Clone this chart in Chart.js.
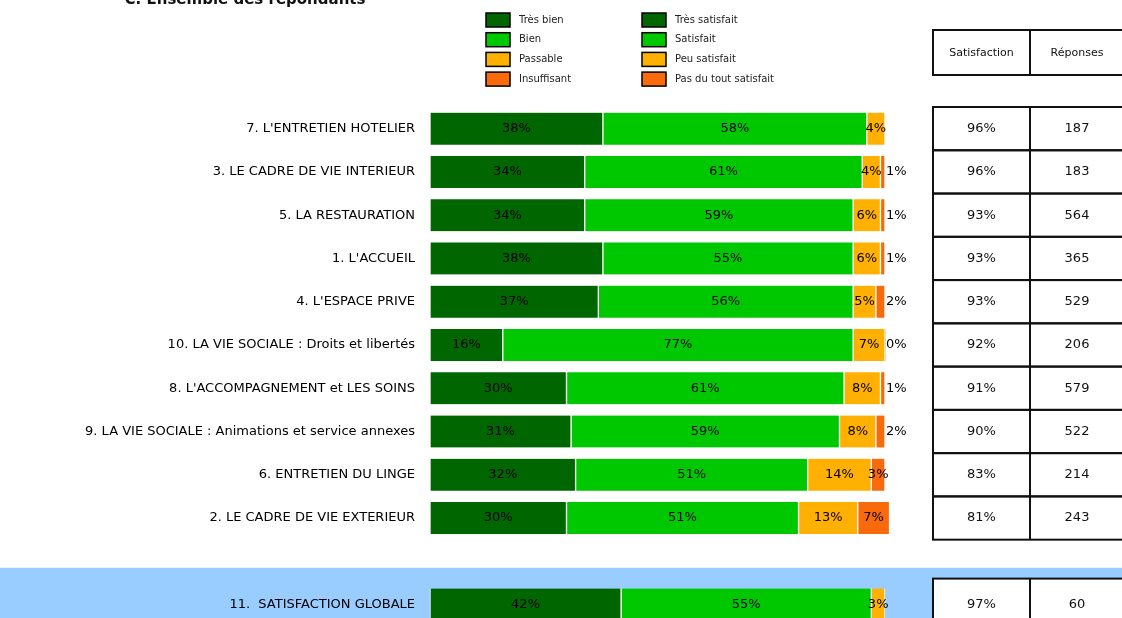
<!DOCTYPE html>
<html>
<head>
<meta charset="utf-8">
<script src="https://cdn.jsdelivr.net/npm/chart.js@4/dist/chart.umd.min.js"></script>
<style>
    html, body { margin: 0; padding: 0; background: #fff; overflow: hidden; }
    #wrap { width: 1122px; height: 649px; }
</style>
</head>
<body>
<div id="wrap"><canvas id="satisfactionChart" width="1122" height="649"></canvas></div>
<script>
const title = 'C. Ensemble des répondants';
const categories = [
    "7. L'ENTRETIEN HOTELIER",
    '3. LE CADRE DE VIE INTERIEUR',
    '5. LA RESTAURATION',
    "1. L'ACCUEIL",
    "4. L'ESPACE PRIVE",
    '10. LA VIE SOCIALE : Droits et libertés',
    "8. L'ACCOMPAGNEMENT et LES SOINS",
    '9. LA VIE SOCIALE : Animations et service annexes',
    '6. ENTRETIEN DU LINGE',
    '2. LE CADRE DE VIE EXTERIEUR',
    '',
    '11.  SATISFACTION GLOBALE',
];
const tresBien    = [38, 34, 34, 38, 37, 16, 30, 31, 32, 30, null, 42];
const bien        = [58, 61, 59, 55, 56, 77, 61, 59, 51, 51, null, 55];
const passable    = [4, 4, 6, 6, 5, 7, 8, 8, 14, 13, null, 3];
const insuffisant = [null, 1, 1, 1, 2, 0, 1, 2, 3, 7, null, null];
const satisfaction = [96, 96, 93, 93, 93, 92, 91, 90, 83, 81, null, 97];
const reponses     = [187, 183, 564, 365, 529, 206, 579, 522, 214, 243, null, 60];
const tableHeaders = ['Satisfaction', 'Réponses'];
const seriesLabels    = ['Très bien', 'Bien', 'Passable', 'Insuffisant'];
const seriesLabelsAlt = ['Très satisfait', 'Satisfait', 'Peu satisfait', 'Pas du tout satisfait'];
const seriesColors    = ['#006600', '#00c800', '#ffb000', '#f86a0c'];

const FONT = '"DejaVu Sans", sans-serif';
const seriesValues = [tresBien, bien, passable, insuffisant];

// light blue band behind the global row + cut-off title
const backdrop = {
    id: 'backdrop',
    beforeDraw(chart) {
        const { ctx } = chart;
        const y = chart.scales.y;
        const step = y.height / categories.length;
        const top = y.getPixelForValue(categories.length - 1) - step * 0.85;
        ctx.save();
        ctx.fillStyle = '#99ccff';
        ctx.fillRect(0, top, chart.width, chart.height - top);
        ctx.fillStyle = '#111';
        ctx.font = 'bold 15px ' + FONT;
        ctx.textAlign = 'center';
        ctx.textBaseline = 'alphabetic';
        ctx.fillText(title, 245, 4);
        ctx.restore();
    },
};

const barLabels = {
    id: 'barLabels',
    afterDatasetsDraw(chart) {
        const { ctx } = chart;
        ctx.save();
        ctx.font = '13px ' + FONT;
        ctx.fillStyle = '#000';
        ctx.textBaseline = 'middle';
        chart.data.datasets.forEach((ds, i) => {
            chart.getDatasetMeta(i).data.forEach((bar, j) => {
                const v = ds.data[j];
                if (v == null) return;
                if (i === 3 && v < 3) {
                    ctx.textAlign = 'left';
                    ctx.fillText(v + '%', bar.x + 1, bar.y);
                } else {
                    ctx.textAlign = 'center';
                    ctx.fillText(v + '%', (bar.x + bar.base) / 2, bar.y);
                }
            });
        });
        ctx.restore();
    },
};

const legendBoxes = {
    id: 'legendBoxes',
    afterDraw(chart) {
        const { ctx } = chart;
        ctx.save();
        ctx.font = '10px ' + FONT;
        ctx.textAlign = 'left';
        ctx.textBaseline = 'middle';
        [[486, seriesLabels], [642, seriesLabelsAlt]].forEach(([x, names]) => {
            names.forEach((name, i) => {
                const cy = 20 + i * 19.7;
                ctx.fillStyle = seriesColors[i];
                ctx.fillRect(x, cy - 7, 24, 14);
                ctx.strokeStyle = '#000';
                ctx.lineWidth = 1.5;
                ctx.strokeRect(x, cy - 7, 24, 14);
                ctx.fillStyle = '#222';
                ctx.fillText(name, x + 33, cy);
            });
        });
        ctx.restore();
    },
};

const sideTable = {
    id: 'sideTable',
    afterDraw(chart) {
        const { ctx } = chart;
        const y = chart.scales.y;
        const step = y.height / categories.length;
        const x0 = 933, x1 = 1030, x2 = 1124;
        ctx.save();
        ctx.strokeStyle = '#111';
        ctx.lineWidth = 2;
        ctx.fillStyle = '#111';
        ctx.textAlign = 'center';
        ctx.textBaseline = 'middle';

        ctx.strokeRect(x0, 30, x2 + 6 - x0, 45);
        ctx.beginPath(); ctx.moveTo(x1, 30); ctx.lineTo(x1, 75); ctx.stroke();
        ctx.font = '11px ' + FONT;
        ctx.fillText(tableHeaders[0], (x0 + x1) / 2, 53);
        ctx.fillText(tableHeaders[1], (x1 + x2) / 2, 53);

        ctx.font = '13px ' + FONT;
        satisfaction.forEach((s, i) => {
            if (s == null) return;
            const cy = y.getPixelForValue(i);
            const isLast = i === categories.length - 1;
            const top = isLast ? cy - step * 0.6 : cy - step / 2;
            const h = isLast ? chart.height - top + 5 : step;
            if (isLast) {
                ctx.fillStyle = '#fff';
                ctx.fillRect(x0, top, x2 + 6 - x0, h);
            }
            ctx.strokeRect(x0, top, x2 + 6 - x0, h);
            ctx.beginPath(); ctx.moveTo(x1, top); ctx.lineTo(x1, top + h); ctx.stroke();
            ctx.fillStyle = '#111';
            ctx.fillText(s + '%', (x0 + x1) / 2, cy);
            ctx.fillText(String(reponses[i]), (x1 + x2) / 2, cy);
        });
        ctx.restore();
    },
};

new Chart(document.getElementById('satisfactionChart'), {
    type: 'bar',
    data: {
        labels: categories,
        datasets: seriesValues.map((data, i) => ({
            label: seriesLabels[i],
            data,
            backgroundColor: seriesColors[i],
            borderColor: '#ffffff',
            borderWidth: { left: 1, right: 1, top: 0, bottom: 0 },
            borderSkipped: false,
            barThickness: 32,
            clip: false,
        })),
    },
    options: {
        indexAxis: 'y',
        responsive: false,
        animation: false,
        layout: { padding: { top: 107, right: 237, bottom: 0, left: 0 } },
        plugins: { legend: { display: false }, tooltip: { enabled: false } },
        scales: {
            x: { stacked: true, min: 0, max: 100, display: false },
            y: {
                stacked: true,
                grid: { display: false, drawTicks: false },
                border: { display: false },
                afterFit: (s) => { s.width = 430; },
                ticks: {
                    autoSkip: false,
                    padding: 15,
                    color: '#000',
                    font: { family: FONT, size: 13 },
                },
            },
        },
    },
    plugins: [backdrop, barLabels, legendBoxes, sideTable],
});
</script>
</body>
</html>
